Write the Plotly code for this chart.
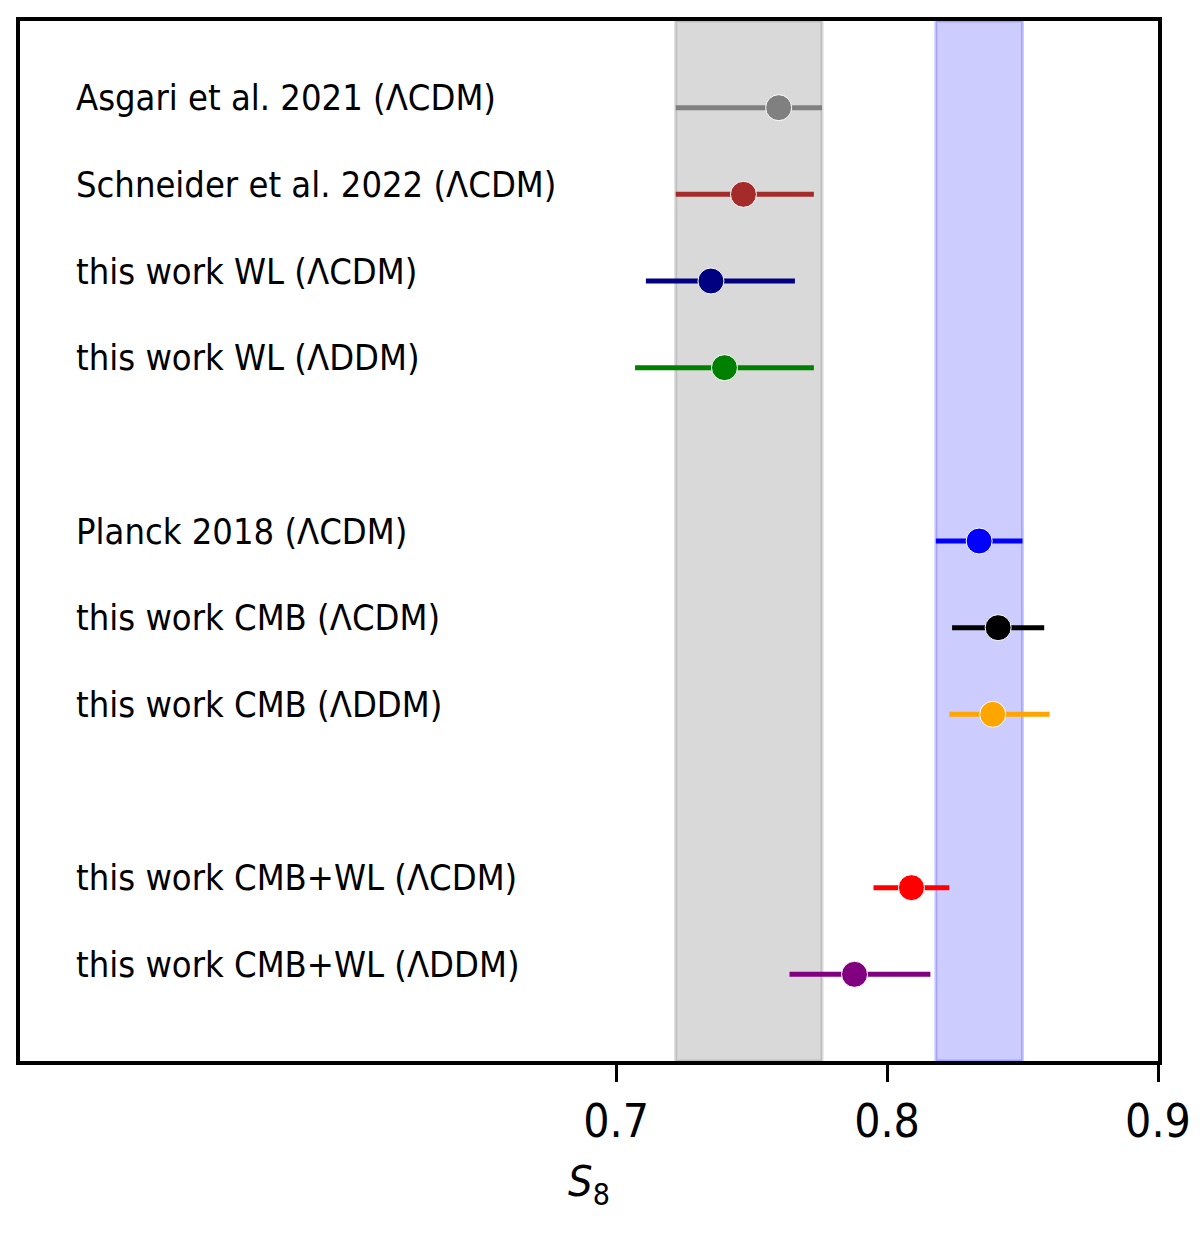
import plotly.graph_objects as go

# S8 constraints
labels = [
    "Asgari et al. 2021 (ΛCDM)",
    "Schneider et al. 2022 (ΛCDM)",
    "this work WL (ΛCDM)",
    "this work WL (ΛDDM)",
    "Planck 2018 (ΛCDM)",
    "this work CMB (ΛCDM)",
    "this work CMB (ΛDDM)",
    "this work CMB+WL (ΛCDM)",
    "this work CMB+WL (ΛDDM)",
]
rows = [0, 1, 2, 3, 5, 6, 7, 9, 10]
s8 = [0.760, 0.747, 0.735, 0.740, 0.834, 0.841, 0.839, 0.809, 0.788]
s8_lo = [0.722, 0.722, 0.711, 0.707, 0.818, 0.824, 0.823, 0.795, 0.764]
s8_hi = [0.776, 0.773, 0.766, 0.773, 0.850, 0.858, 0.860, 0.823, 0.816]
colors = ["gray", "brown", "navy", "green", "blue", "black", "orange", "red", "purple"]

FONT = "DejaVu Sans Condensed, DejaVu Sans, sans-serif"

fig = go.Figure()

# shaded bands: Asgari (WL) and Planck (CMB) intervals
for i, rgb in [(0, "128,128,128"), (4, "0,0,255")]:
    a = 0.3 if i == 0 else 0.2
    fig.add_shape(type="rect", xref="x", yref="paper",
                  x0=s8_lo[i], x1=s8_hi[i], y0=0, y1=1,
                  fillcolor=f"rgba({rgb},{a})",
                  line=dict(color=f"rgba({rgb},{a})", width=3),
                  layer="below")

for i in range(len(labels)):
    fig.add_trace(go.Scatter(
        x=[s8[i]], y=[rows[i]], mode="markers",
        marker=dict(size=26, color=colors[i], line=dict(color="white", width=1)),
        error_x=dict(type="data", symmetric=False,
                     array=[s8_hi[i] - s8[i]], arrayminus=[s8[i] - s8_lo[i]],
                     color=colors[i], thickness=5, width=0),
        showlegend=False,
    ))
    fig.add_annotation(x=0.5, y=rows[i], xref="x", yref="y", text=labels[i],
                       showarrow=False, xanchor="left", yanchor="middle", yshift=10,
                       font=dict(family=FONT, size=36, color="black"))

# page body adds ~8px margin, so the figure is shrunk by that much
fig.update_layout(
    width=1192, height=1225,
    margin=dict(l=12, r=40, t=9, b=172),
    plot_bgcolor="white", paper_bgcolor="white",
    font=dict(family=FONT, color="black"),
)
fig.update_xaxes(
    range=[0.48, 0.9], tickvals=[0.7, 0.8, 0.9], ticktext=["0.7", "0.8", "0.9"],
    ticks="outside", ticklen=17, tickwidth=3, tickcolor="black",
    tickfont=dict(size=46), showgrid=False, zeroline=False,
    showline=True, linewidth=4, linecolor="black", mirror=True,
    title=dict(text="<i>S</i><sub>8</sub>", font=dict(size=43), standoff=20),
)
fig.update_yaxes(
    range=[11, -1], showticklabels=False, showgrid=False, zeroline=False,
    showline=True, linewidth=4, linecolor="black", mirror=True,
)

fig.write_html("out.html")
